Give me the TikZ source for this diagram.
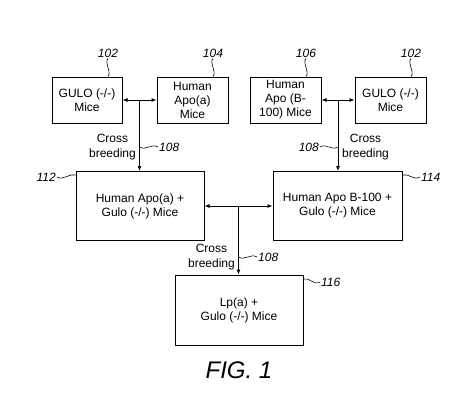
\documentclass[tikz,border=0pt]{standalone}
\usepackage{fontspec}
\setmainfont{Liberation Sans}
\usetikzlibrary{arrows.meta,calc}
\tikzstyle{box}=[rectangle, draw, line width=1pt, align=center, font=\fontsize{12}{14}\selectfont]
\tikzstyle{mice}=[box, minimum width=70pt, minimum height=46pt]
\tikzstyle{cross}=[box, minimum width=128pt, minimum height=69pt]
\tikzstyle{ref}=[inner sep=1pt, font=\fontsize{12}{14}\selectfont\itshape]
\tikzstyle{note}=[inner sep=0pt, align=center, font=\fontsize{12}{15}\selectfont]
\tikzstyle{edge}=[line width=0.8pt, -{Latex[length=5pt,width=4pt]}]
\tikzstyle{dedge}=[line width=0.8pt, {Latex[length=5pt,width=4pt]}-{Latex[length=5pt,width=4pt]}]
\tikzstyle{wave}=[-, line width=0.6pt]

\begin{document}
\begin{tikzpicture}[x=1pt,y=-1pt]
				\useasboundingbox (0,0) rectangle (474,410);
				
				%The parent lines
				\draw (87,100) node[mice] (gulo1) {GULO (-/-)\\Mice};
				\draw (192.5,100) node[mice, minimum width=71pt] (apoa) {Human\\Apo(a)\\Mice};
				\draw (285.5,100) node[mice, minimum width=71pt] (apob) {Human\\Apo (B-\\100) Mice};
				\draw (390.5,100) node[mice, minimum width=71pt] (gulo2) {GULO (-/-)\\Mice};
				
				%The crossed lines
				\draw (140,206) node[cross] (apoagulo) {Human Apo(a) +\\Gulo (-/-) Mice};
				\draw (337.5,206) node[cross, minimum width=129pt] (apobgulo) {Human Apo B-100 +\\Gulo (-/-) Mice};
				\draw (239,310) node[cross, minimum height=70pt] (lpa) {Lp(a) +\\Gulo (-/-) Mice};
				
				%The first cross
				\draw[dedge] (gulo1) -- (apoa);
				\coordinate (m1) at ($(gulo1.east)!0.5!(apoa.west)$);
				\draw[edge] (m1) -- (m1 |- apoagulo.north);
				\draw (136,147) node[note, anchor=east] (cb1) {Cross\\breeding};
				
				%The second cross
				\draw[dedge] (apob) -- (gulo2);
				\coordinate (m2) at ($(apob.east)!0.5!(gulo2.west)$);
				\draw[edge] (m2) -- (m2 |- apobgulo.north);
				\draw (342,147) node[note, anchor=west] (cb2) {Cross\\breeding};
				
				%The last cross
				\draw[dedge] (apoagulo) -- (apobgulo);
				\coordinate (m3) at ($(apoagulo.east)!0.5!(apobgulo.west)$);
				\draw[edge] (m3) -- (m3 |- lpa.north);
				\draw (235,257.5) node[note, anchor=east] (cb3) {Cross\\breeding};
				
				%The reference numbers
				\draw (108,53) node[ref] (r102a) {102};
				\draw[wave] (r102a.south) .. controls +(-4,4) and +(4,-4) .. (r102a.south |- gulo1.north);
				\draw (213,53) node[ref] (r104) {104};
				\draw[wave] (r104.south) .. controls +(-4,4) and +(4,-4) .. (r104.south |- apoa.north);
				\draw (306,53) node[ref] (r106) {106};
				\draw[wave] (r106.south) .. controls +(-4,4) and +(4,-4) .. (r106.south |- apob.north);
				\draw (411,53) node[ref] (r102b) {102};
				\draw[wave] (r102b.south) .. controls +(-4,4) and +(4,-4) .. (r102b.south |- gulo2.north);
				
				\draw (158,147) node[ref, anchor=west] (r108a) {108};
				\draw[wave] (r108a.west) .. controls +(-6,-4) and +(6,4) .. (m1 |- r108a.west);
				\draw (320,147) node[ref, anchor=east] (r108b) {108};
				\draw[wave] (r108b.east) .. controls +(6,-4) and +(-6,4) .. (m2 |- r108b.east);
				\draw (257,257) node[ref, anchor=west] (r108c) {108};
				\draw[wave] (r108c.west) .. controls +(-6,-4) and +(6,4) .. (m3 |- r108c.west);
				
				\draw (57,177) node[ref, anchor=east] (r112) {112};
				\draw[wave] (r112.east) .. controls +(6,4) and +(-6,-2) .. (apoagulo.west |- 0,175);
				\draw (420,177) node[ref, anchor=west] (r114) {114};
				\draw[wave] (r114.west) .. controls +(-6,4) and +(6,-2) .. (apobgulo.east |- 0,175);
				\draw (320,282) node[ref, anchor=west] (r116) {116};
				\draw[wave] (r116.west) .. controls +(-6,4) and +(6,-2) .. (lpa.east |- 0,279);
				
				%The caption
				\draw (239,370) node[inner sep=0pt, font=\fontsize{24}{28}\selectfont\itshape] (fig) {FIG. 1};
			\end{tikzpicture}
\end{document}
